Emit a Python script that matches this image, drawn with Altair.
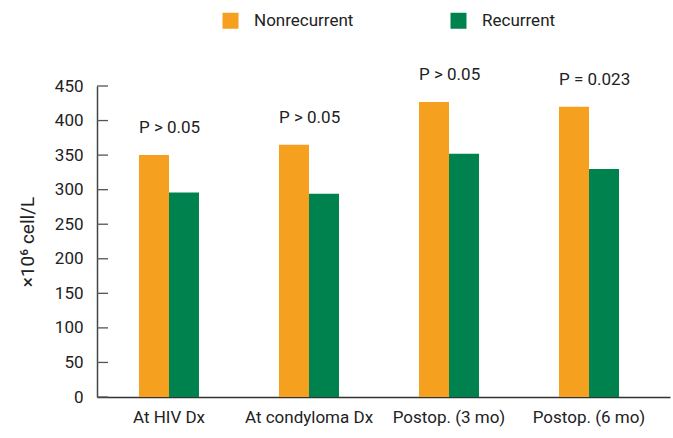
import altair as alt
import pandas as pd

categories = ["At HIV Dx", "At condyloma Dx", "Postop. (3 mo)", "Postop. (6 mo)"]
series = ["Nonrecurrent", "Recurrent"]
nonrecurrent = [350, 365, 427, 420]
recurrent = [296, 294, 352, 330]
p_labels = ["P > 0.05", "P > 0.05", "P > 0.05", "P = 0.023"]
y_ticks = [0, 50, 100, 150, 200, 250, 300, 350, 400, 450]
colors = ["#F5A01F", "#00824F"]

FONT = "Roboto"
TXT = "#222222"

rows = []
for c, a, b in zip(categories, nonrecurrent, recurrent):
    rows.append({"cat": c, "series": series[0], "value": a})
    rows.append({"cat": c, "series": series[1], "value": b})
bars_df = pd.DataFrame(rows)
ann_df = pd.DataFrame({"cat": categories, "value": nonrecurrent, "label": p_labels})
ticks_df = pd.DataFrame({"value": y_ticks})

xscale = alt.Scale(paddingInner=0.5714, paddingOuter=0.332, align=0.4516)
yscale = alt.Scale(domain=[0, 450], nice=False)

xaxis = alt.Axis(title=None, labelAngle=0, ticks=False, tickSize=0,
                 labelPadding=12, labelFontSize=17, labelFont=FONT,
                 labelColor=TXT, domainColor="#333333", domainWidth=1.5)
yaxis = alt.Axis(title="×10⁶ cell/L", values=y_ticks, grid=False,
                 ticks=False, tickSize=0, labelPadding=14,
                 labelOverlap=False, labelFlush=False,
                 labelFontSize=17, labelFont=FONT, labelColor=TXT,
                 titleFont=FONT, titleFontSize=19, titleFontWeight="normal",
                 titleColor=TXT, titlePadding=17,
                 domainColor="#444444", domainWidth=1.5)

bars = alt.Chart(bars_df).mark_bar(strokeWidth=0).encode(
    x=alt.X("cat:N", sort=categories, scale=xscale, axis=xaxis),
    xOffset=alt.XOffset("series:N", sort=series,
                        scale=alt.Scale(paddingInner=0, paddingOuter=0)),
    y=alt.Y("value:Q", scale=yscale, axis=yaxis),
    color=alt.Color("series:N", sort=series,
                    scale=alt.Scale(domain=series, range=colors),
                    legend=alt.Legend(title=None, orient="none", direction="horizontal",
                                      legendX=125, legendY=-74, symbolType="square",
                                      symbolSize=256, symbolStrokeWidth=0,
                                      labelFontSize=17, labelFont=FONT, labelColor=TXT,
                                      labelOffset=15, columnPadding=96, padding=0)),
)

ytick_marks = alt.Chart(ticks_df).mark_rule(color="#555555", strokeWidth=1.3).encode(
    x=alt.value(0), x2=alt.value(11),
    y=alt.Y("value:Q", scale=yscale, axis=yaxis),
)

ann = alt.Chart(ann_df).mark_text(
    align="left", baseline="alphabetic", dy=-22, fontSize=17, font=FONT, color=TXT
).encode(
    x=alt.X("cat:N", sort=categories, bandPosition=0, scale=xscale, axis=xaxis),
    y=alt.Y("value:Q", scale=yscale, axis=yaxis),
    text="label:N",
)

chart = alt.layer(bars, ytick_marks, ann).properties(
    width=573, height=311,
    autosize=alt.AutoSizeParams(type="none"),
    padding={"left": 97, "top": 86, "right": 3, "bottom": 41},
).configure_view(stroke=None).configure_axis(
    grid=False, labelOverlap=False
)

chart.save("out.html", embed_options={"renderer": "svg", "actions": False})
